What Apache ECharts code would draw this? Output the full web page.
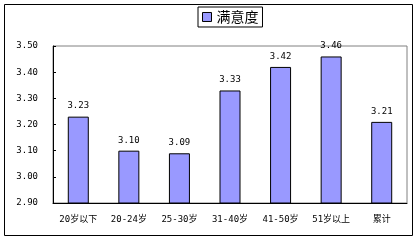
<!DOCTYPE html>
<html><head><meta charset="utf-8">
<script src="https://cdn.jsdelivr.net/npm/echarts@6/dist/echarts.min.js"></script>
<style>html,body{margin:0;padding:0;background:#fff}#c{width:420px;height:241px}</style>
</head><body><div id="c"></div>
<script>
const categories = ['20岁以下','20-24岁','25-30岁','31-40岁','41-50岁','51岁以上','累计'];
const satisfaction = [3.23, 3.10, 3.09, 3.33, 3.42, 3.46, 3.21];
const yTicks = {min: 2.9, max: 3.5, interval: 0.1};
const chart = echarts.init(document.getElementById('c'), null, {renderer:'canvas'});
chart.setOption({
  animation:false,
  backgroundColor:'#fff',
  graphic:[{type:'rect', shape:{x:4.5,y:4.5,width:408,height:231}, style:{fill:'none',stroke:'#000',lineWidth:1}, z:-1}],
  legend:{
    left:198, top:7, padding:[3,4,3,4], borderColor:'#000', borderWidth:1,
    itemWidth:9, itemHeight:9, itemGap:4,
    textStyle:{fontSize:14, fontFamily:'Noto Sans CJK SC', color:'#000'},
    data:[{name:'满意度', icon:'rect', itemStyle:{color:'#9999FF', borderColor:'#000', borderWidth:1}}]
  },
  grid:{left:53, right:13, top:46, bottom:38, show:true, borderColor:'#808080', borderWidth:1},
  xAxis:{
    type:'category', data:categories,
    axisLine:{lineStyle:{color:'#000', width:1}},
    axisTick:{inside:true, length:3, lineStyle:{color:'#000'}},
    axisLabel:{color:'#000', fontSize:9, fontFamily:'DejaVu Sans Mono, Noto Sans CJK SC', margin:12, interval:0}
  },
  yAxis:{
    type:'value', min:yTicks.min, max:yTicks.max, interval:yTicks.interval,
    axisLine:{show:true, lineStyle:{color:'#000', width:1}},
    axisTick:{show:true, inside:true, length:3, lineStyle:{color:'#000'}},
    splitLine:{show:false},
    axisLabel:{color:'#000', fontSize:9, fontFamily:'DejaVu Sans Mono', margin:15, formatter:v=>v.toFixed(2)}
  },
  series:[{
    name:'满意度', type:'bar', data:satisfaction, barWidth:21,
    itemStyle:{color:'#9999FF', borderColor:'#000', borderWidth:1},
    label:{show:true, position:'top', color:'#000', fontSize:9, fontFamily:'DejaVu Sans Mono', distance:6, formatter:p=>p.value.toFixed(2)}
  }]
});
</script></body></html>
